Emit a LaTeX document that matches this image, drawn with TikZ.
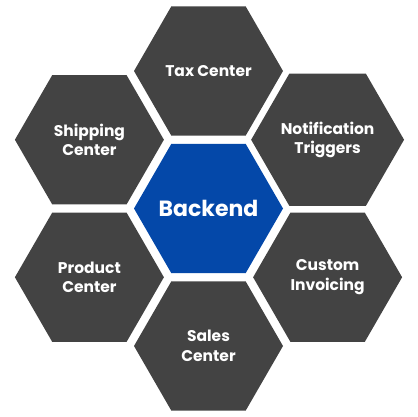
\documentclass[tikz,border=0pt]{standalone}
\usepackage{fontspec}
\setmainfont{Poppins}
\usepackage{tikz}
\usetikzlibrary{shapes.geometric, positioning}

\definecolor{hexgray}{HTML}{434343}
\definecolor{hexblue}{HTML}{0448A9}

\begin{document}
\begin{tikzpicture}[node distance=137.5pt,on grid,
        hexcell/.style={regular polygon,regular polygon sides=6,minimum size=149pt,
            inner sep=0pt,outer sep=0pt,align=center,text=white},
        cell/.style={hexcell,fill=hexgray,font=\bfseries\fontsize{15.5}{19.5}\selectfont},
        hub/.style={hexcell,fill=hexblue,font=\bfseries\fontsize{22}{26}\selectfont}]

    \useasboundingbox (0pt,0pt) rectangle (417pt,-417pt);

    \node[hub]  (backend) at (208.5pt,-208.5pt) {\makebox[0pt]{Backend}};

    \node[cell] (tax)      [above=of backend]                          {Tax Center};
    \node[cell] (sales)    [below=of backend]                          {Sales\\Center};
    \node[cell] (notify)   [above right=68.75pt and 119.1pt of backend] {Notification\\Triggers};
    \node[cell] (invoice)  [below right=68.75pt and 119.1pt of backend] {Custom\\Invoicing};
    \node[cell] (shipping) [above left=68.75pt and 119.1pt of backend]  {Shipping\\Center};
    \node[cell] (product)  [below left=68.75pt and 119.1pt of backend]  {Product\\Center};
\end{tikzpicture}
\end{document}
